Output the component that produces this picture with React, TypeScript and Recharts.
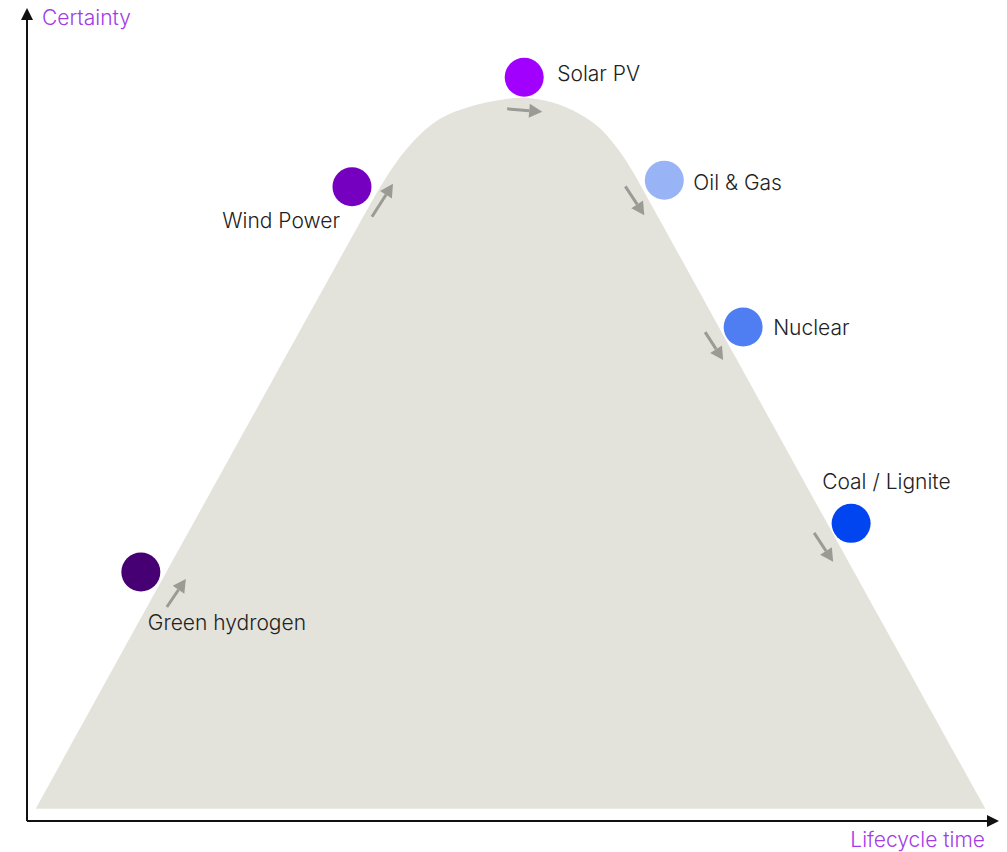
import { ComposedChart, Area, Scatter, XAxis, YAxis, ReferenceLine } from "recharts";

// curve outline (lifecycle time 0-100, certainty 0-100)
const curveTime = [0.9, 12.6, 26.0, 35.5, 36.6, 38.0, 39.7, 42.1, 44.8, 47.8, 51.0, 54.1, 56.8, 58.9, 60.4, 61.8, 63.3, 71.2, 89.7, 98.5];
const curveCertainty = [1.5, 27.0, 56.0, 76.6, 78.8, 81.4, 83.9, 86.6, 87.9, 88.8, 89.4, 88.7, 87.3, 85.6, 83.4, 81.1, 77.9, 60.7, 20.5, 1.5];

const techNames = ["Green hydrogen", "Wind Power", "Solar PV", "Oil & Gas", "Nuclear", "Coal / Lignite"];
const techTime = [11.7, 33.4, 51.1, 65.5, 73.6, 84.7];
const techCertainty = [30.7, 78.2, 91.7, 79.0, 60.9, 36.7];

const curveData = curveTime.map((x, i) => ({ x, y: curveCertainty[i] }));
const techData = techNames.map((name, i) => ({ name, x: techTime[i], y: techCertainty[i] }));

const colors: Record<string, string> = {
  "Green hydrogen": "#460073",
  "Wind Power": "#7500C0",
  "Solar PV": "#A100FF",
  "Oil & Gas": "#99B3F7",
  Nuclear: "#4F7EF3",
  "Coal / Lignite": "#0045F0",
};

// label anchor + arrow (tail, tip) relative to the dot centre
const layout: Record<string, { lx: number; ly: number; anchor: string; arrow: number[] }> = {
  "Green hydrogen": { lx: 7, ly: 58, anchor: "start", arrow: [26, 35, 45, 7] },
  "Wind Power": { lx: -12, ly: 41, anchor: "end", arrow: [20, 30, 41, -3] },
  "Solar PV": { lx: 33, ly: 4, anchor: "start", arrow: [-17, 31.5, 18, 34.5] },
  "Oil & Gas": { lx: 29, ly: 10, anchor: "start", arrow: [-39, 6, -20, 35] },
  Nuclear: { lx: 30, ly: 8, anchor: "start", arrow: [-38, 5, -20, 33] },
  "Coal / Lignite": { lx: -29, ly: -34, anchor: "start", arrow: [-37, 9.5, -18, 38.5] },
};

const FONT = "Inter, 'Noto Sans', sans-serif";
const ARROW_GREY = "#9b9b95";

function Arrow({ x1, y1, x2, y2, color, width, head, headW }: any) {
  const a = Math.atan2(y2 - y1, x2 - x1);
  const bx = x2 - head * Math.cos(a);
  const by = y2 - head * Math.sin(a);
  const px = (headW / 2) * Math.sin(a);
  const py = (headW / 2) * Math.cos(a);
  return (
    <g>
      <line x1={x1} y1={y1} x2={bx} y2={by} stroke={color} strokeWidth={width} />
      <polygon points={`${x2},${y2} ${bx + px},${by - py} ${bx - px},${by + py}`} fill={color} />
    </g>
  );
}

function TechDot(props: any) {
  const { cx, cy, payload } = props;
  const l = layout[payload.name];
  const [ax1, ay1, ax2, ay2] = l.arrow;
  return (
    <g>
      <Arrow x1={cx + ax1} y1={cy + ay1} x2={cx + ax2} y2={cy + ay2} color={ARROW_GREY} width={3} head={13} headW={14} />
      <circle cx={cx} cy={cy} r={19.5} fill={colors[payload.name]} />
      <text x={cx + l.lx} y={cy + l.ly} textAnchor={l.anchor} fontFamily={FONT} fontWeight={300} fontSize={21} fill="#222">
        {payload.name}
      </text>
    </g>
  );
}

const axisShape = (label: string, vertical: boolean) => (p: any) => {
  const { x1, y1, x2, y2 } = p;
  return (
    <g>
      <Arrow x1={x1} y1={y1} x2={vertical ? x2 : x2 - 1} y2={vertical ? y2 - 2 : y2} color="#111" width={2} head={12} headW={12} />
      {vertical ? (
        <text x={x1 + 15} y={y2 + 15} fontFamily={FONT} fontSize={21} fontWeight={300} fill="#A23CE8">
          {label}
        </text>
      ) : (
        <text x={x2 - 15} y={y2 + 26} textAnchor="end" fontFamily={FONT} fontSize={21} fontWeight={300} fill="#A23CE8">
          {label}
        </text>
      )}
    </g>
  );
};

export default function App() {
  return (
    <div style={{ position: "absolute", left: 0, top: 0, width: 1007, height: 852, background: "#fff" }}>
      <ComposedChart width={1007} height={852} data={curveData} margin={{ top: 10, right: 7, bottom: 31, left: 27 }}>
        <XAxis type="number" dataKey="x" domain={[0, 100]} hide />
        <YAxis type="number" dataKey="y" domain={[0, 100]} hide />
        <Area
          type="basis"
          dataKey="y"
          baseValue={1.5}
          fill="#E3E3DB"
          fillOpacity={1}
          stroke="none"
          isAnimationActive={false}
        />
        <ReferenceLine segment={[{ x: 0, y: 0 }, { x: 100, y: 0 }]} shape={axisShape("Lifecycle time", false)} />
        <ReferenceLine segment={[{ x: 0, y: 0 }, { x: 0, y: 100 }]} shape={axisShape("Certainty", true)} />
        <Scatter data={techData} dataKey="y" shape={TechDot} isAnimationActive={false} />
      </ComposedChart>
    </div>
  );
}
